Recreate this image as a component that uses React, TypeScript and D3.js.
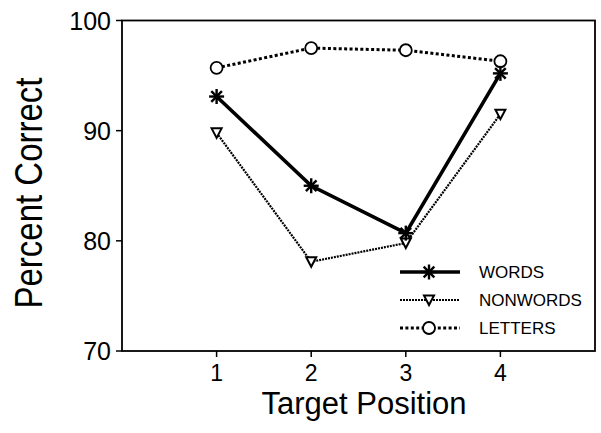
import React from "react";
import * as d3 from "d3";

const positions = [1, 2, 3, 4];
const words = [93.1, 85.0, 80.7, 95.2];
const nonwords = [89.8, 78.1, 79.8, 91.5];
const letters = [95.7, 97.5, 97.3, 96.3];
const yTicks = [70, 80, 90, 100];
const legendLabels = ["WORDS", "NONWORDS", "LETTERS"];

const width = 601;
const height = 433;
const margin = { top: 20.5, right: 6, bottom: 82, left: 122 };
const font = "'Liberation Sans', Arial, Helvetica, sans-serif";

const x = d3.scaleLinear().domain([0, 5]).range([margin.left, width - margin.right]);
const y = d3.scaleLinear().domain([70, 100]).range([height - margin.bottom, margin.top]);

const styles = {
  WORDS: { stroke: "#000", width: 3.6, dash: "none" },
  NONWORDS: { stroke: "#000", width: 2.2, dash: "2,1" },
  LETTERS: { stroke: "#000", width: 3, dash: "3,2.4" },
};

const Asterisk = ({ cx, cy, r = 7.5 }) => {
  const angles = [0, 45, 90, 135];
  return (
    <g>
      {angles.map((a) => {
        const rad = (a * Math.PI) / 180;
        const dx = Math.cos(rad) * r;
        const dy = Math.sin(rad) * r;
        return (
          <line
            key={a}
            x1={cx - dx}
            y1={cy - dy}
            x2={cx + dx}
            y2={cy + dy}
            stroke="#000"
            strokeWidth={2.4}
          />
        );
      })}
    </g>
  );
};

const Triangle = ({ cx, cy }) => (
  <path
    d={`M${cx - 5},${cy - 4.5} L${cx + 5},${cy - 4.5} L${cx},${cy + 5} Z`}
    fill="#fff"
    stroke="#000"
    strokeWidth={2}
  />
);

const Circle = ({ cx, cy }) => (
  <circle cx={cx} cy={cy} r={6} fill="#fff" stroke="#000" strokeWidth={1.8} />
);

const markerFor = (key, cx, cy) => {
  if (key === "WORDS") return <Asterisk cx={cx} cy={cy} />;
  if (key === "NONWORDS") return <Triangle cx={cx} cy={cy} />;
  return <Circle cx={cx} cy={cy} />;
};

export default function App() {
  const line = d3
    .line<number>()
    .x((_, i) => x(positions[i]))
    .y((d) => y(d));

  const series = [
    { key: "LETTERS", values: letters },
    { key: "NONWORDS", values: nonwords },
    { key: "WORDS", values: words },
  ];

  const x0 = margin.left;
  const x1 = width - margin.right;
  const y0 = height - margin.bottom;
  const y1 = margin.top;

  return (
    <svg
      width={width}
      height={height}
      style={{ position: "absolute", left: 0, top: 0, background: "#fff" }}
      fontFamily={font}
    >
      {/* frame */}
      <rect x={x0} y={y1} width={x1 - x0} height={y0 - y1} fill="none" stroke="#000" strokeWidth={1.8} />

      {/* y ticks */}
      {yTicks.map((t) => (
        <g key={t}>
          <line x1={x0 - 6} x2={x0} y1={y(t)} y2={y(t)} stroke="#000" strokeWidth={1.5} />
          <text x={x0 - 11} y={y(t)} dy="0.36em" textAnchor="end" fontSize={25}>
            {t}
          </text>
        </g>
      ))}

      {/* x ticks */}
      {positions.map((p) => (
        <g key={p}>
          <line x1={x(p)} x2={x(p)} y1={y0} y2={y0 + 6} stroke="#000" strokeWidth={1.5} />
          <text x={x(p)} y={y0 + 30} textAnchor="middle" fontSize={23}>
            {p}
          </text>
        </g>
      ))}

      {/* axis titles */}
      <text x={364} y={414} textAnchor="middle" fontSize={31}>
        Target Position
      </text>
      <text
        transform={`translate(${42},${193}) rotate(-90) scale(1,1.18)`}
        textAnchor="middle"
        fontSize={33}
      >
        Percent Correct
      </text>

      {/* series lines */}
      {series.map((s) => (
        <path
          key={s.key}
          d={line(s.values)}
          fill="none"
          stroke={styles[s.key].stroke}
          strokeWidth={styles[s.key].width}
          strokeDasharray={styles[s.key].dash}
        />
      ))}

      {/* markers */}
      {series.map((s) => (
        <g key={s.key + "-m"}>
          {s.values.map((v, i) => (
            <g key={i}>{markerFor(s.key, x(positions[i]), y(v))}</g>
          ))}
        </g>
      ))}

      {/* legend */}
      {legendLabels.map((k, i) => {
        const ly = 272 + i * 28;
        return (
          <g key={k}>
            <line
              x1={400}
              x2={460}
              y1={ly}
              y2={ly}
              stroke={styles[k].stroke}
              strokeWidth={styles[k].width}
              strokeDasharray={styles[k].dash}
            />
            {markerFor(k, 429, ly)}
            <text x={479} y={ly} dy="0.36em" fontSize={17}>
              {k}
            </text>
          </g>
        );
      })}
    </svg>
  );
}
